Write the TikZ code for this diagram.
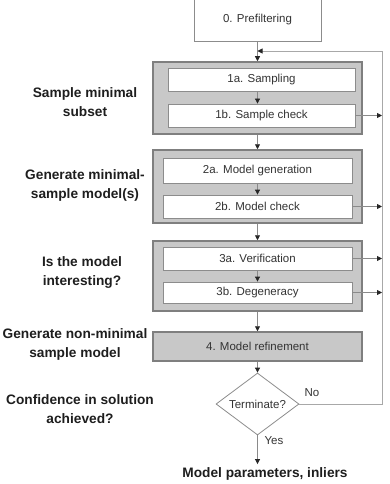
\documentclass[tikz,border=0pt]{standalone}
\usepackage{fontspec}
\setmainfont{Liberation Sans}
\usetikzlibrary{shapes.geometric,arrows.meta}
\definecolor{grpfill}{HTML}{C8C8C8}
\definecolor{grpdraw}{HTML}{7F7F7F}
\definecolor{boxdraw}{HTML}{8C8C8C}
\definecolor{linec}{HTML}{8A8A8A}
\definecolor{loopc}{HTML}{A8A8A8}
\definecolor{txtc}{HTML}{333333}
\definecolor{lblc}{HTML}{1E1E1E}
\begin{document}
\begin{tikzpicture}[x=1pt,y=-1pt,
  grp/.style={draw=grpdraw, line width=1.5pt, fill=grpfill, inner sep=0pt},
  box/.style={draw=boxdraw, line width=0.8pt, fill=white, inner sep=0pt,
              font=\fontsize{11.5}{13}\selectfont, text=txtc},
  lbl/.style={align=center, font=\fontsize{13.7}{19}\selectfont\bfseries, text=lblc},
  small/.style={font=\fontsize{11.5}{13}\selectfont, text=txtc},
  conn/.style={draw=linec, line width=0.8pt, -{Triangle[length=5pt,width=5pt,color=black!85]}},
  loopline/.style={draw=loopc, line width=0.9pt, -{Triangle[length=5pt,width=5pt,color=black!85]}}]
\useasboundingbox (0,0) rectangle (390,484);

% top box
\node[box, minimum width=127pt, minimum height=43pt] (pre) at (257.5,19.5) {0. Prefiltering};

% group 1
\node[grp, minimum width=209pt, minimum height=72pt] (g1) at (257.5,98) {};
\node[box, minimum width=187pt, minimum height=23pt] (a1) at (261.5,79.5) {1a. Sampling};
\node[box, minimum width=187pt, minimum height=23pt] (b1) at (261.5,115.5) {1b. Sample check};

% group 2
\node[grp, minimum width=209pt, minimum height=73pt] (g2) at (257.5,186.5) {};
\node[box, minimum width=189pt, minimum height=25pt] (a2) at (257.5,170.5) {2a. Model generation};
\node[box, minimum width=189pt, minimum height=23pt] (b2) at (257.5,206.5) {2b. Model check};

% group 3
\node[grp, minimum width=209pt, minimum height=70pt] (g3) at (257.5,276) {};
\node[box, minimum width=189pt, minimum height=23pt] (a3) at (257.5,258.5) {3a. Verification};
\node[box, minimum width=189pt, minimum height=21pt] (b3) at (257.5,292.5) {3b. Degeneracy};

% refinement
\node[grp, minimum width=209pt, minimum height=29pt, font=\fontsize{11.5}{13}\selectfont, text=txtc] (ref) at (257.5,346.5) {4. Model refinement};

% decision
\node[diamond, draw=boxdraw, line width=0.8pt, fill=white, inner sep=0pt, aspect=1.34,
      minimum width=83pt, minimum height=62pt, font=\fontsize{11.5}{13}\selectfont, text=txtc] (dia) at (257.5,404) {Terminate?};

% output
\node[lbl] (out) at (265,474) {Model parameters, inliers};

% loop corner coordinates
\coordinate (loopTR) at (382,51);
\coordinate (loopL) at (257.5,51);

% left labels
\node[lbl] (l1) at (85,102.5) {Sample minimal\\subset};
\node[lbl] (l2) at (85,185.5) {Generate minimal-\\sample model(s)};
\node[lbl] (l3) at (82,272.5) {Is the model\\interesting?};
\node[lbl] (l4) at (75,344) {Generate non-minimal\\sample model};
\node[lbl] (l5) at (80,409.5) {Confidence in solution\\achieved?};

% vertical flow
\draw[conn] (pre.south) -- (g1.north);
\draw[conn] (a1.south -| g1.north) -- (b1.north -| g1.north);
\draw[conn] (g1.south) -- (g2.north);
\draw[conn] (a2.south) -- (b2.north);
\draw[conn] (g2.south) -- (g3.north);
\draw[conn] (a3.south) -- (b3.north);
\draw[conn] (g3.south) -- (ref.north);
\draw[conn] (ref.south) -- (dia.north);
\draw[conn] (dia.south) -- (dia.south |- out.north);

% side exits
\draw[conn] (b1.east) -- (b1.east -| loopTR);
\draw[conn] (b2.east) -- (b2.east -| loopTR);
\draw[conn] (a3.east) -- (a3.east -| loopTR);
\draw[conn] (b3.east) -- (b3.east -| loopTR);

% loop back
\draw[loopline] (dia.east) -- (dia.east -| loopTR) -- (loopTR) -- (loopL);

% branch labels
\node[small] (no) at (312,393) {No};
\node[small] (yes) at (274,441) {Yes};
\end{tikzpicture}
\end{document}
